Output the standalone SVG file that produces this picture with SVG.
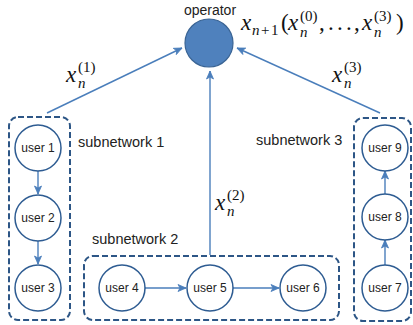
<svg xmlns="http://www.w3.org/2000/svg" width="413" height="325" viewBox="0 0 413 325">
<defs>
<marker id="ah" markerWidth="10" markerHeight="10" refX="9" refY="5" orient="auto" markerUnits="userSpaceOnUse">
<path d="M1,1.5 L9,5 L1,8.5 L3,5 Z" fill="#4a7ebb" stroke="#4a7ebb" stroke-width="0.8" stroke-linejoin="round"/>
</marker>
</defs>
<style>
.box{fill:none;stroke:#2d5686;stroke-width:2;stroke-dasharray:6 3}
.user{fill:#fff;stroke:#2e5c92;stroke-width:1.5}
.ut{font-family:"Liberation Sans",Arial,sans-serif;font-size:12px;fill:#222;text-anchor:middle}
.lbl{font-family:"Liberation Sans",Arial,sans-serif;font-size:14.5px;fill:#222}
.conn{stroke:#4a7ebb;stroke-width:1.4;fill:none;marker-end:url(#ah)}
.m{font-family:"Liberation Serif","Times New Roman",serif;font-size:23px;fill:#111}
.s{font-family:"Liberation Serif","Times New Roman",serif;font-size:15px;fill:#111}
.i{font-style:italic}
</style>

<g id="connectors">
<line class="conn" x1="47" y1="113" x2="182" y2="48"/>
<line class="conn" x1="380" y1="113" x2="237" y2="48"/>
<line class="conn" x1="210" y1="255" x2="210" y2="71"/>
<line class="conn" x1="38" y1="171" x2="38" y2="194"/>
<line class="conn" x1="38" y1="241" x2="38" y2="264"/>
<line class="conn" x1="385" y1="265" x2="385" y2="240"/>
<line class="conn" x1="385" y1="194" x2="385" y2="171"/>
<line class="conn" x1="145" y1="288" x2="186" y2="288"/>
<line class="conn" x1="233" y1="288" x2="279" y2="288"/>
</g>

<g id="subnetwork1">
<rect class="box" x="9" y="117" width="61" height="203" rx="9"/>
<text class="lbl" x="78" y="147">subnetwork 1</text>
</g>
<g id="subnetwork2">
<rect class="box" x="84" y="256" width="255" height="64" rx="9"/>
<text class="lbl" x="92" y="244">subnetwork 2</text>
</g>
<g id="subnetwork3">
<rect class="box" x="354" y="118" width="57" height="203" rx="9"/>
<text class="lbl" x="256" y="145">subnetwork 3</text>
</g>

<g id="operator">
<circle cx="209" cy="43" r="24" fill="#4f81bd" stroke="#3a6494" stroke-width="1.2"/>
<text x="210" y="15" font-family="'Liberation Sans',Arial,sans-serif" font-size="14" fill="#222" text-anchor="middle">operator</text>
</g>

<g id="formula">
<text class="m i" x="241" y="30">x</text>
<text class="s" y="35"><tspan class="i" x="252">n</tspan><tspan x="261">+</tspan><tspan x="271">1</tspan></text>
<text class="m" x="281" y="30">(</text>
<text class="m i" x="288" y="30">x</text>
<text class="s" x="300" y="21">(0)</text>
<text class="s i" x="300" y="37">n</text>
<text class="m" x="319" y="30">,</text>
<text class="m" y="30"><tspan x="328">.</tspan><tspan x="337">.</tspan><tspan x="346">.</tspan></text>
<text class="m" x="354" y="30">,</text>
<text class="m i" x="362" y="30">x</text>
<text class="s" x="374" y="21">(3)</text>
<text class="s i" x="374" y="37">n</text>
<text class="m" x="396" y="30">)</text>
</g>

<g id="label1">
<text class="m i" x="66" y="82">x</text>
<text class="s" x="78" y="72">(1)</text>
<text class="s i" x="78" y="88">n</text>
</g>
<g id="label2">
<text class="m i" x="215" y="210">x</text>
<text class="s" x="227" y="200">(2)</text>
<text class="s i" x="227" y="216">n</text>
</g>
<g id="label3">
<text class="m i" x="332" y="82">x</text>
<text class="s" x="344" y="72">(3)</text>
<text class="s i" x="344" y="88">n</text>
</g>

<g id="user1"><circle class="user" cx="38" cy="148" r="23"/><text class="ut" x="38" y="152">user 1</text></g>
<g id="user2"><circle class="user" cx="38" cy="218" r="23"/><text class="ut" x="38" y="222">user 2</text></g>
<g id="user3"><circle class="user" cx="38" cy="288" r="23"/><text class="ut" x="38" y="292">user 3</text></g>
<g id="user4"><circle class="user" cx="122" cy="288" r="23"/><text class="ut" x="122" y="292">user 4</text></g>
<g id="user5"><circle class="user" cx="210" cy="288" r="23"/><text class="ut" x="210" y="292">user 5</text></g>
<g id="user6"><circle class="user" cx="303" cy="288" r="23"/><text class="ut" x="303" y="292">user 6</text></g>
<g id="user7"><circle class="user" cx="385" cy="288" r="23"/><text class="ut" x="385" y="292">user 7</text></g>
<g id="user8"><circle class="user" cx="385" cy="217" r="23"/><text class="ut" x="385" y="221">user 8</text></g>
<g id="user9"><circle class="user" cx="385" cy="148" r="23"/><text class="ut" x="385" y="152">user 9</text></g>
</svg>
